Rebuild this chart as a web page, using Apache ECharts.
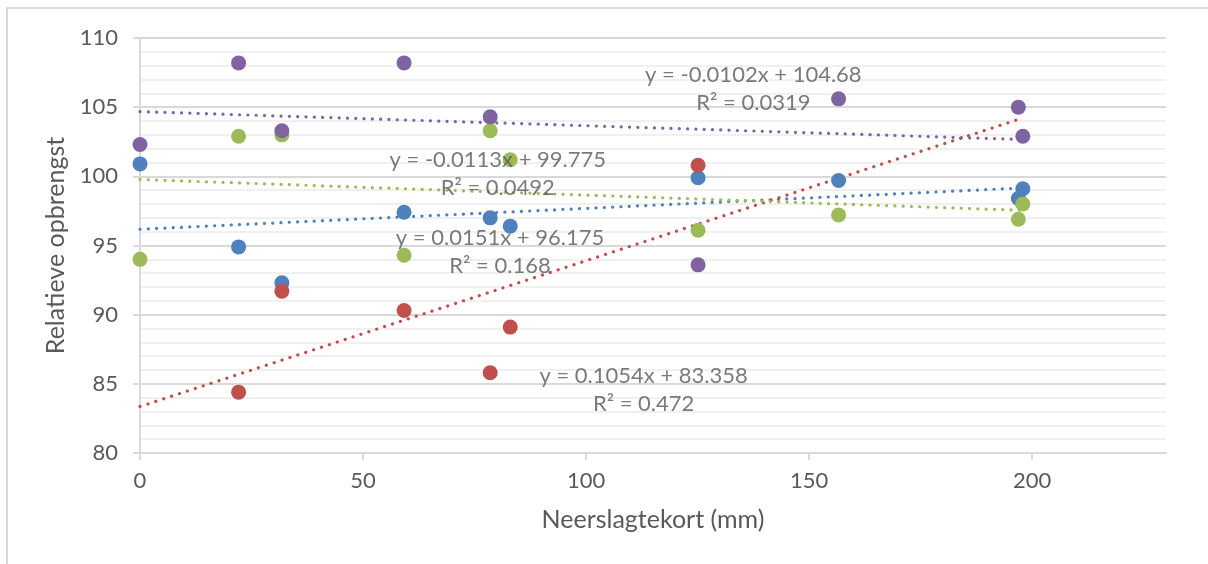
<!DOCTYPE html>
<html>
<head>
<meta charset="utf-8">
<script src="https://cdn.jsdelivr.net/npm/echarts@6/dist/echarts.min.js"></script>
<style>
  html, body { margin: 0; padding: 0; background: #fff; }
  #chart { width: 1208px; height: 564px; }
</style>
</head>
<body>
<div id="chart"></div>
<script>
// neerslagtekort (mm) per meting
var xValues = [0, 22.1, 31.8, 59.2, 78.5, 83.0, 125.1, 156.6, 196.9, 197.9];

// relatieve opbrengst per reeks (null = geen waarde)
var blueValues   = [100.9, 94.9, 92.3, 97.4, 97.0, 96.4, 99.9, 99.7, 98.4, 99.1];
var redValues    = [null, 84.4, 91.7, 90.3, 85.8, 89.1, 100.8, null, null, null];
var greenValues  = [94.0, 102.9, 103.0, 94.3, 103.3, 101.2, 96.1, 97.2, 96.9, 98.0];
var purpleValues = [102.3, 108.2, 103.3, 108.2, 104.3, null, 93.6, 105.6, 105.0, 102.9];

// lineaire trendlijnen (zoals in de labels)
var slopes     = [0.0151, 0.1054, -0.0113, -0.0102];
var intercepts = [96.175, 83.358, 99.775, 104.68];
var rSquared   = ["0.168", "0.472", "0.0492", "0.0319"];
var trendRange = [0, 198];

var colors = ["#4f81bd", "#c0504d", "#9bbb59", "#8064a2"];
// plaats van de vergelijkingslabels (data-coordinaten)
var labelAnchors = [[80.7, 94.55], [112.9, 84.55], [80.2, 100.2], [137.5, 106.35]];

var fontFamily = "Lato, 'Open Sans', sans-serif";
var textColor = "#595959";

function $each(arr, fn) { for (var i = 0; i < arr.length; i++) fn(arr[i], i); }

function pairs(values) {
    var out = [];
    $each(values, function (v, i) {
        if (v !== null) out.push([xValues[i], v]);
    });
    return out;
}

function eqText(i) {
    var s = slopes[i] < 0 ? "-" + Math.abs(slopes[i]) : "" + slopes[i];
    return "y = " + s + "x + " + intercepts[i] + "\nR² = " + rSquared[i];
}

var allValues = [blueValues, redValues, greenValues, purpleValues];
var series = [];

// trendlijnen
$each(allValues, function (vals, i) {
    series.push({
        type: "line",
        data: trendRange.map(function (x) { return [x, intercepts[i] + slopes[i] * x]; }),
        symbol: "none",
        silent: true,
        z: 3,
        lineStyle: { color: colors[i], width: 3.2, type: [0.1, 8.2], cap: "round" }
    });
});

// meetpunten
$each(allValues, function (vals, i) {
    series.push({
        type: "scatter",
        data: pairs(vals),
        symbolSize: 15,
        z: 4,
        itemStyle: { color: colors[i], opacity: 1 }
    });
});

// vergelijkingen + R²
series.push({
    type: "scatter",
    symbolSize: 0,
    silent: true,
    z: 5,
    data: labelAnchors.map(function (p, i) { return { value: p, name: eqText(i) }; }),
    label: {
        show: true,
        position: "inside",
        formatter: function (p) { return p.name; },
        color: textColor,
        fontFamily: fontFamily,
        fontSize: 22,
        lineHeight: 28,
        align: "center",
        verticalAlign: "middle"
    }
});

var chart = echarts.init(document.getElementById("chart"), null, { renderer: "canvas" });
chart.setOption({
    animation: false,
    backgroundColor: "#fff",
    grid: { left: 140, right: 42, top: 38, bottom: 111 },
    graphic: [{
        type: "rect",
        shape: { x: 7, y: 8, width: 1215, height: 570 },
        style: { fill: null, stroke: "#d9d9d9", lineWidth: 2 },
        silent: true
    }],
    xAxis: {
        type: "value",
        min: 0,
        max: 230,
        interval: 50,
        name: "Neerslagtekort (mm)",
        nameLocation: "middle",
        nameGap: 54,
        nameTextStyle: { color: textColor, fontFamily: fontFamily, fontSize: 25 },
        axisLine: { show: true, lineStyle: { color: "#d9d9d9", width: 2 } },
        axisTick: { show: true, length: 7, lineStyle: { color: "#d9d9d9", width: 2 }, customValues: [0, 50, 100, 150, 200] },
        axisLabel: { color: textColor, fontFamily: fontFamily, fontSize: 22, margin: 17, customValues: [0, 50, 100, 150, 200] },
        splitLine: { show: false }
    },
    yAxis: {
        type: "value",
        min: 80,
        max: 110,
        interval: 5,
        name: "Relatieve opbrengst",
        nameLocation: "middle",
        nameGap: 70,
        nameTextStyle: { color: textColor, fontFamily: fontFamily, fontSize: 25 },
        axisLine: { show: true, lineStyle: { color: "#d9d9d9", width: 2 } },
        axisTick: { show: true, length: 7, lineStyle: { color: "#d9d9d9", width: 2 } },
        axisLabel: { color: textColor, fontFamily: fontFamily, fontSize: 22, margin: 22 },
        splitLine: { show: true, lineStyle: { color: "#d9d9d9", width: 2 } },
        minorTick: { show: false, splitNumber: 5 },
        minorSplitLine: { show: true, lineStyle: { color: "#f0f0f0", width: 2 } }
    },
    series: series
});
</script>
</body>
</html>
